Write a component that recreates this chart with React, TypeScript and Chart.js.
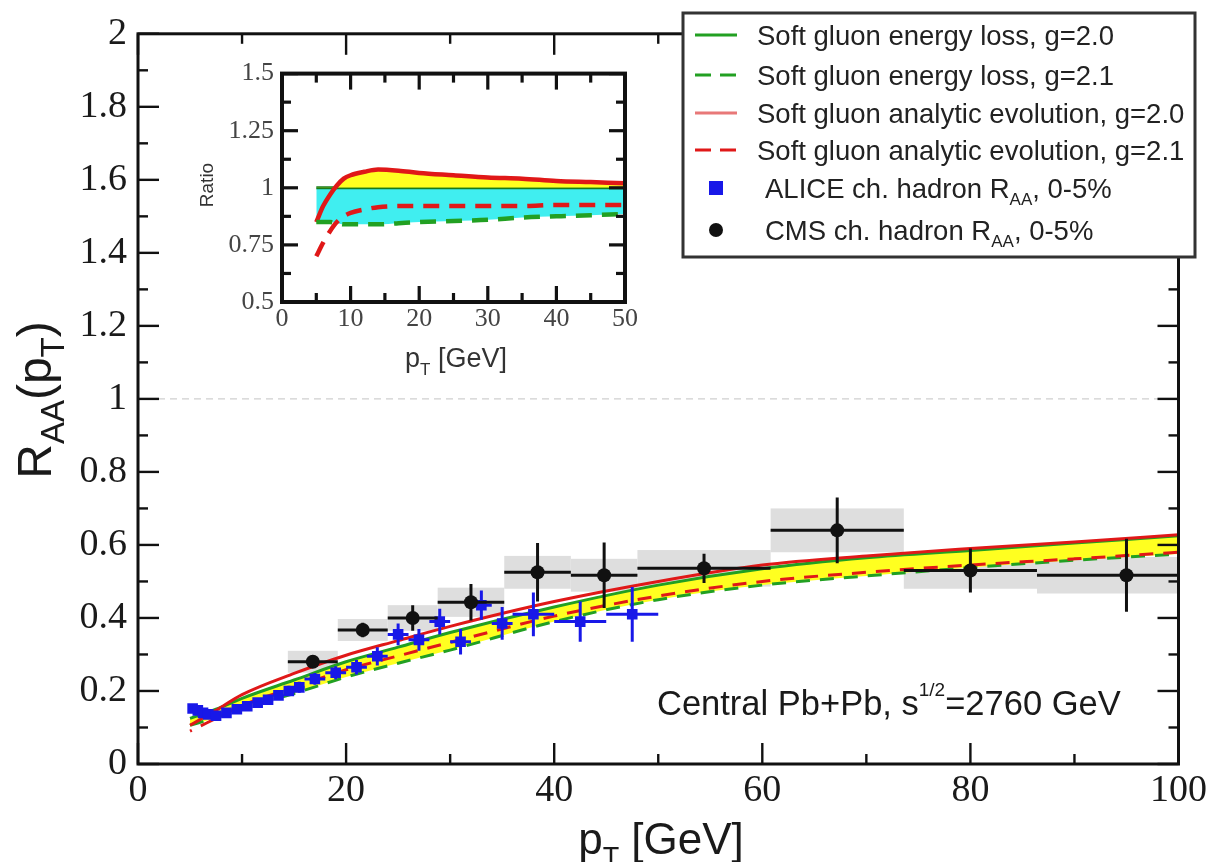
import React, { useEffect, useRef } from "react";
import { Chart, registerables } from "chart.js";
Chart.register(...registerables);

// ---------------- data: main panel ----------------
const curvePt = [5, 7.5, 10, 15, 20, 25, 30, 40, 50, 60, 70, 80, 90, 100];
const elossG20 = [0.125, 0.15, 0.18, 0.23, 0.28, 0.32, 0.36, 0.43, 0.49, 0.535, 0.565, 0.585, 0.605, 0.625];
const elossG21 = [0.106, 0.127, 0.151, 0.193, 0.238, 0.276, 0.312, 0.39, 0.45, 0.49, 0.515, 0.538, 0.558, 0.575];
const evolG20 = [0.106, 0.147, 0.19, 0.248, 0.298, 0.338, 0.377, 0.445, 0.5, 0.545, 0.57, 0.59, 0.608, 0.628];
const evolG21 = [0.09, 0.125, 0.16, 0.21, 0.258, 0.296, 0.333, 0.405, 0.46, 0.5, 0.525, 0.545, 0.562, 0.58];

const alicePt = [5.25, 5.75, 6.25, 6.75, 7.5, 8.5, 9.5, 10.5, 11.5, 12.5, 13.5, 14.5, 15.5, 17, 19, 21, 23, 25, 27, 29, 31, 33, 35, 38, 42.5, 47.5];
const aliceXErr = [0.25, 0.25, 0.25, 0.25, 0.5, 0.5, 0.5, 0.5, 0.5, 0.5, 0.5, 0.5, 0.5, 1, 1, 1, 1, 1, 1, 1, 1, 1, 1, 2, 2.5, 2.5];
const aliceRaa = [0.152, 0.147, 0.14, 0.136, 0.132, 0.14, 0.15, 0.158, 0.168, 0.176, 0.188, 0.2, 0.21, 0.233, 0.25, 0.265, 0.295, 0.355, 0.34, 0.39, 0.335, 0.435, 0.385, 0.41, 0.39, 0.41];
const aliceYErr = [0.008, 0.008, 0.008, 0.008, 0.008, 0.009, 0.01, 0.01, 0.011, 0.012, 0.013, 0.014, 0.015, 0.016, 0.018, 0.02, 0.025, 0.03, 0.03, 0.035, 0.035, 0.04, 0.045, 0.06, 0.055, 0.075];

const cmsPt = [16.8, 21.6, 26.4, 32.0, 38.4, 44.8, 54.4, 67.2, 80.0, 95.0];
const cmsBinLo = [14.4, 19.2, 24.0, 28.8, 35.2, 41.6, 48.0, 60.8, 73.6, 86.4];
const cmsBinHi = [19.2, 24.0, 28.8, 35.2, 41.6, 48.0, 60.8, 73.6, 86.4, 103.6];
const cmsRaa = [0.28, 0.367, 0.40, 0.443, 0.525, 0.517, 0.536, 0.64, 0.53, 0.517];
const cmsStat = [0.015, 0.02, 0.035, 0.05, 0.08, 0.09, 0.04, 0.09, 0.06, 0.1];
const cmsSyst = [0.03, 0.03, 0.035, 0.04, 0.045, 0.045, 0.05, 0.06, 0.05, 0.05];

const mainXMajor = [0, 20, 40, 60, 80, 100];
const mainXMinor = [10, 30, 50, 70, 90];
const mainYMajor = [0, 0.2, 0.4, 0.6, 0.8, 1, 1.2, 1.4, 1.6, 1.8, 2];
const mainYMinor = [0.1, 0.3, 0.5, 0.7, 0.9, 1.1, 1.3, 1.5, 1.7, 1.9];

// ---------------- data: inset (ratio) ----------------
const ratioPt = [5, 6, 7, 8, 9, 10, 12, 14, 17, 20, 25, 30, 35, 40, 45, 50];
const ratioElossG20 = [1, 1, 1, 1, 1, 1, 1, 1, 1, 1, 1, 1, 1, 1, 1, 1];
const ratioElossG21 = [0.85, 0.85, 0.85, 0.845, 0.84, 0.84, 0.84, 0.84, 0.845, 0.85, 0.855, 0.86, 0.87, 0.875, 0.88, 0.885];
const ratioEvolG20 = [0.85, 0.92, 0.97, 1.01, 1.04, 1.055, 1.07, 1.08, 1.075, 1.065, 1.055, 1.045, 1.04, 1.03, 1.025, 1.02];
const ratioEvolG21 = [0.7, 0.76, 0.81, 0.85, 0.875, 0.89, 0.905, 0.915, 0.92, 0.92, 0.92, 0.92, 0.92, 0.925, 0.925, 0.925];

const insetXMajor = [0, 10, 20, 30, 40, 50];
const insetXMinor = [5, 15, 25, 35, 45];
const insetYMajor = [0.5, 0.75, 1, 1.25, 1.5];
const insetYMinor = [0.625, 0.875, 1.125, 1.375];

const legendLabels = [
  "Soft gluon energy loss, g=2.0",
  "Soft gluon energy loss, g=2.1",
  "Soft gluon analytic evolution, g=2.0",
  "Soft gluon analytic evolution, g=2.1",
];

// ---------------- styles ----------------
const SANS = '"Liberation Sans", Arial, Helvetica, sans-serif';
const SERIF = '"Liberation Serif", "Times New Roman", serif';
const GREEN = "#22a022";
const RED = "#e01818";
const BLUE = "#1818e8";
const YELLOW = "#ffff20";
const CYAN = "#40eef0";

type Part = [string, "n" | "sub" | "sup"];

function drawParts(ctx: CanvasRenderingContext2D, parts: Part[], x: number, y: number, base: number, align: "left" | "center", subScale = 0.62) {
  const sz = (k: string) => (k === "n" ? base : Math.round(base * subScale));
  let total = 0;
  for (const [t, k] of parts) {
    ctx.font = `${sz(k)}px ${SANS}`;
    total += ctx.measureText(t).width;
  }
  let cx = align === "center" ? x - total / 2 : x;
  ctx.textAlign = "left";
  ctx.textBaseline = "alphabetic";
  for (const [t, k] of parts) {
    ctx.font = `${sz(k)}px ${SANS}`;
    const dy = k === "sub" ? base * 0.28 : k === "sup" ? -base * 0.55 : 0;
    ctx.fillText(t, cx, y + dy);
    cx += ctx.measureText(t).width;
  }
}

function line(ctx: CanvasRenderingContext2D, x1: number, y1: number, x2: number, y2: number) {
  ctx.beginPath();
  ctx.moveTo(x1, y1);
  ctx.lineTo(x2, y2);
  ctx.stroke();
}

function pts(xs: number[], ys: number[]) {
  return xs.map((x, i) => ({ x, y: ys[i] }));
}

function drawFrameTicks(chart: any, xMaj: number[], xMin: number[], yMaj: number[], yMin: number[], lw: number, maj: number, min: number, color: string) {
  const ctx = chart.ctx as CanvasRenderingContext2D;
  const ca = chart.chartArea;
  const xs = chart.scales.x;
  const ys = chart.scales.y;
  ctx.save();
  ctx.strokeStyle = color;
  ctx.lineWidth = lw * 0.8;
  ctx.setLineDash([]);
  for (const v of xMaj) {
    const p = xs.getPixelForValue(v);
    line(ctx, p, ca.bottom, p, ca.bottom - maj);
    line(ctx, p, ca.top, p, ca.top + maj);
  }
  for (const v of xMin) {
    const p = xs.getPixelForValue(v);
    line(ctx, p, ca.bottom, p, ca.bottom - min);
    line(ctx, p, ca.top, p, ca.top + min);
  }
  for (const v of yMaj) {
    const p = ys.getPixelForValue(v);
    line(ctx, ca.left, p, ca.left + maj, p);
    line(ctx, ca.right, p, ca.right - maj, p);
  }
  for (const v of yMin) {
    const p = ys.getPixelForValue(v);
    line(ctx, ca.left, p, ca.left + min, p);
    line(ctx, ca.right, p, ca.right - min, p);
  }
  ctx.lineWidth = lw;
  ctx.strokeRect(ca.left, ca.top, ca.right - ca.left, ca.bottom - ca.top);
  ctx.restore();
}

const mainPlugin = {
  id: "mainDecor",
  beforeDatasetsDraw(chart: any) {
    const ctx = chart.ctx as CanvasRenderingContext2D;
    const ca = chart.chartArea;
    const xs = chart.scales.x;
    const ys = chart.scales.y;
    ctx.save();
    ctx.beginPath();
    ctx.rect(ca.left, ca.top, ca.right - ca.left, ca.bottom - ca.top);
    ctx.clip();
    // y = 1 reference line
    ctx.strokeStyle = "#cfcfcf";
    ctx.lineWidth = 1.2;
    ctx.setLineDash([7, 5]);
    const y1 = ys.getPixelForValue(1);
    line(ctx, ca.left + 20, y1, ca.right - 15, y1);
    ctx.setLineDash([]);
    // CMS systematic boxes
    ctx.fillStyle = "#dedede";
    cmsPt.forEach((_, i) => {
      const xa = xs.getPixelForValue(cmsBinLo[i]);
      const xb = xs.getPixelForValue(cmsBinHi[i]);
      const ya = ys.getPixelForValue(cmsRaa[i] + cmsSyst[i]);
      const yb = ys.getPixelForValue(cmsRaa[i] - cmsSyst[i]);
      ctx.fillRect(xa, ya, xb - xa, yb - ya);
    });
    ctx.restore();
  },
  beforeDatasetDraw(chart: any, args: any) {
    const ds = chart.data.datasets[args.index];
    const ctx = chart.ctx as CanvasRenderingContext2D;
    const ca = chart.chartArea;
    const xs = chart.scales.x;
    const ys = chart.scales.y;
    if (ds.label !== "ALICE" && ds.label !== "CMS") return;
    ctx.save();
    ctx.beginPath();
    ctx.rect(ca.left, ca.top, ca.right - ca.left, ca.bottom - ca.top);
    ctx.clip();
    ctx.lineWidth = 3;
    if (ds.label === "ALICE") {
      ctx.strokeStyle = BLUE;
      alicePt.forEach((x, i) => {
        const px = xs.getPixelForValue(x);
        const py = ys.getPixelForValue(aliceRaa[i]);
        line(ctx, xs.getPixelForValue(x - aliceXErr[i]), py, xs.getPixelForValue(x + aliceXErr[i]), py);
        line(ctx, px, ys.getPixelForValue(aliceRaa[i] - aliceYErr[i]), px, ys.getPixelForValue(aliceRaa[i] + aliceYErr[i]));
      });
    } else {
      ctx.strokeStyle = "#111";
      cmsPt.forEach((x, i) => {
        const px = xs.getPixelForValue(x);
        const py = ys.getPixelForValue(cmsRaa[i]);
        line(ctx, xs.getPixelForValue(cmsBinLo[i]), py, xs.getPixelForValue(cmsBinHi[i]), py);
        line(ctx, px, ys.getPixelForValue(cmsRaa[i] - cmsStat[i]), px, ys.getPixelForValue(cmsRaa[i] + cmsStat[i]));
      });
    }
    ctx.restore();
  },
  afterDraw(chart: any) {
    const ctx = chart.ctx as CanvasRenderingContext2D;
    drawFrameTicks(chart, mainXMajor, mainXMinor, mainYMajor, mainYMinor, 3, 21, 10, "#111");
    ctx.save();
    ctx.fillStyle = "#1a1a1a";
    // annotation
    drawParts(ctx, [["Central Pb+Pb, s", "n"], ["1/2", "sup"], ["=2760 GeV", "n"]], 657, 715, 34.5, "left", 0.55);
    // x title
    drawParts(ctx, [["p", "n"], ["T", "sub"], [" [GeV]", "n"]], 661, 854, 44, "center");
    // y title
    ctx.save();
    ctx.translate(51, 400);
    ctx.rotate(-Math.PI / 2);
    drawParts(ctx, [["R", "n"], ["AA", "sub"], ["(p", "n"], ["T", "sub"], [")", "n"]], 0, 0, 48, "center", 0.68);
    ctx.restore();
    // legend
    const lx = 683, ly = 13, lw = 512, lh = 244;
    ctx.fillStyle = "#fff";
    ctx.fillRect(lx, ly, lw, lh);
    ctx.strokeStyle = "#333";
    ctx.lineWidth = 3;
    ctx.strokeRect(lx, ly, lw, lh);
    const rows = [35, 75, 113, 150, 188, 230];
    const styles = [
      { c: GREEN, d: [] as number[] },
      { c: GREEN, d: [16, 9] },
      { c: "#e87878", d: [] as number[] },
      { c: RED, d: [16, 9] },
    ];
    styles.forEach((s, i) => {
      ctx.strokeStyle = s.c;
      ctx.lineWidth = 3;
      ctx.setLineDash(s.d);
      line(ctx, 695, rows[i], 737, rows[i]);
      ctx.setLineDash([]);
      ctx.fillStyle = "#222";
      drawParts(ctx, [[legendLabels[i], "n"]], 757, rows[i] + 9.5, 27.5, "left");
    });
    ctx.fillStyle = BLUE;
    ctx.fillRect(709, rows[4] - 7, 14, 14);
    ctx.fillStyle = "#111";
    ctx.beginPath();
    ctx.arc(716, rows[5], 7, 0, Math.PI * 2);
    ctx.fill();
    ctx.fillStyle = "#222";
    drawParts(ctx, [["ALICE ch. hadron R", "n"], ["AA", "sub"], [", 0-5%", "n"]], 765, rows[4] + 9.5, 27.5, "left");
    drawParts(ctx, [["CMS ch. hadron R", "n"], ["AA", "sub"], [", 0-5%", "n"]], 765, rows[5] + 9.5, 27.5, "left");
    ctx.restore();
  },
};

const insetPlugin = {
  id: "insetDecor",
  beforeDraw(chart: any) {
    const ctx = chart.ctx as CanvasRenderingContext2D;
    const ca = chart.chartArea;
    ctx.save();
    ctx.fillStyle = "#fff";
    ctx.fillRect(ca.left, ca.top, ca.right - ca.left, ca.bottom - ca.top);
    ctx.restore();
  },
  afterDraw(chart: any) {
    const ctx = chart.ctx as CanvasRenderingContext2D;
    drawFrameTicks(chart, insetXMajor, insetXMinor, insetYMajor, insetYMinor, 4, 16, 9, "#111");
    ctx.save();
    ctx.fillStyle = "#333";
    drawParts(ctx, [["p", "n"], ["T", "sub"], [" [GeV]", "n"]], 266, 317, 27, "center");
    ctx.translate(23, 135);
    ctx.rotate(-Math.PI / 2);
    drawParts(ctx, [["Ratio", "n"]], 0, 0, 19, "center");
    ctx.restore();
  },
};

export default function App() {
  const mainRef = useRef<HTMLCanvasElement>(null);
  const insetRef = useRef<HTMLCanvasElement>(null);

  useEffect(() => {
    const main = new Chart(mainRef.current!, {
      type: "scatter",
      data: {
        datasets: [
          {
            label: "eloss20", data: pts(curvePt, elossG20), showLine: true, borderColor: GREEN, borderWidth: 3,
            pointRadius: 0, cubicInterpolationMode: "monotone", fill: { target: 1 }, backgroundColor: YELLOW, order: 10,
          },
          {
            label: "eloss21", data: pts(curvePt, elossG21), showLine: true, borderColor: GREEN, borderWidth: 3,
            borderDash: [14, 10], pointRadius: 0, cubicInterpolationMode: "monotone", fill: false, order: 9,
          },
          {
            label: "evol20", data: pts(curvePt, evolG20), showLine: true, borderColor: RED, borderWidth: 3,
            pointRadius: 0, cubicInterpolationMode: "monotone", fill: false, order: 8,
          },
          {
            label: "evol21", data: pts(curvePt, evolG21), showLine: true, borderColor: RED, borderWidth: 3,
            borderDash: [14, 10], borderDashOffset: 12, pointRadius: 0, cubicInterpolationMode: "monotone", fill: false, order: 7,
          },
          {
            label: "ALICE", data: pts(alicePt, aliceRaa), pointStyle: "rect", pointRadius: 7.5,
            backgroundColor: BLUE, borderColor: BLUE, borderWidth: 0, order: 2,
          },
          {
            label: "CMS", data: pts(cmsPt, cmsRaa), pointStyle: "circle", pointRadius: 7,
            backgroundColor: "#111", borderColor: "#111", borderWidth: 0, order: 1,
          },
        ],
      } as any,
      options: {
        responsive: false,
        animation: false,
        devicePixelRatio: 1,
        layout: { padding: { top: 33, right: 31, left: 0, bottom: 0 } },
        plugins: { legend: { display: false }, tooltip: { enabled: false } },
        scales: {
          x: {
            type: "linear", min: 0, max: 100,
            afterBuildTicks: (s: any) => { s.ticks = mainXMajor.map((v) => ({ value: v })); },
            afterFit: (s: any) => { s.height = 98; },
            ticks: { font: { family: SERIF, size: 38 }, color: "#1a1a1a", padding: 4, maxRotation: 0, autoSkip: false },
            grid: { display: false, drawTicks: false },
            border: { display: false },
          },
          y: {
            type: "linear", min: 0, max: 2,
            afterBuildTicks: (s: any) => { s.ticks = mainYMajor.map((v) => ({ value: v })); },
            afterFit: (s: any) => { s.width = 138; },
            ticks: {
              font: { family: SERIF, size: 38 }, color: "#1a1a1a", padding: 11, autoSkip: false,
              callback: (v: any) => String(Math.round(Number(v) * 10) / 10),
            },
            grid: { display: false, drawTicks: false },
            border: { display: false },
          },
        },
      } as any,
      plugins: [mainPlugin],
    });

    const inset = new Chart(insetRef.current!, {
      type: "scatter",
      data: {
        datasets: [
          {
            label: "r_eloss20", data: pts(ratioPt, ratioElossG20), showLine: true, borderColor: "#1a7a1a", borderWidth: 3,
            pointRadius: 0, fill: { target: 1, above: CYAN, below: CYAN }, order: 10,
          },
          {
            label: "r_eloss21", data: pts(ratioPt, ratioElossG21), showLine: true, borderColor: GREEN, borderWidth: 4.5,
            borderDash: [16, 10], pointRadius: 0, cubicInterpolationMode: "monotone", fill: false, order: 8,
          },
          {
            label: "r_evol20", data: pts(ratioPt, ratioEvolG20), showLine: true, borderColor: RED, borderWidth: 4.5,
            pointRadius: 0, cubicInterpolationMode: "monotone",
            fill: { target: { value: 1 }, above: YELLOW, below: "rgba(0,0,0,0)" }, order: 9,
          },
          {
            label: "r_evol21", data: pts(ratioPt, ratioEvolG21), showLine: true, borderColor: RED, borderWidth: 4.5,
            borderDash: [16, 10], pointRadius: 0, cubicInterpolationMode: "monotone", fill: false, order: 7,
          },
        ],
      } as any,
      options: {
        responsive: false,
        animation: false,
        devicePixelRatio: 1,
        layout: { padding: { top: 17, right: 15, left: 0, bottom: 0 } },
        plugins: { legend: { display: false }, tooltip: { enabled: false } },
        scales: {
          x: {
            type: "linear", min: 0, max: 50,
            afterBuildTicks: (s: any) => { s.ticks = insetXMajor.map((v) => ({ value: v })); },
            afterFit: (s: any) => { s.height = 83; },
            ticks: { font: { family: SERIF, size: 26 }, color: "#444", padding: 2, maxRotation: 0, autoSkip: false },
            grid: { display: false, drawTicks: false },
            border: { display: false },
          },
          y: {
            type: "linear", min: 0.5, max: 1.5,
            afterBuildTicks: (s: any) => { s.ticks = insetYMajor.map((v) => ({ value: v })); },
            afterFit: (s: any) => { s.width = 92; },
            ticks: {
              font: { family: SERIF, size: 26 }, color: "#444", padding: 8, autoSkip: false,
              callback: (v: any) => String(Number(v)),
            },
            grid: { display: false, drawTicks: false },
            border: { display: false },
          },
        },
      } as any,
      plugins: [insetPlugin],
    });

    return () => {
      main.destroy();
      inset.destroy();
    };
  }, []);

  return (
    <div style={{ position: "absolute", left: 0, top: 0, width: 1211, height: 862, background: "#fff" }}>
      <canvas ref={mainRef} width={1211} height={862} style={{ position: "absolute", left: 0, top: 0, width: 1211, height: 862 }} />
      <canvas ref={insetRef} width={450} height={335} style={{ position: "absolute", left: 190, top: 50, width: 450, height: 335 }} />
    </div>
  );
}
